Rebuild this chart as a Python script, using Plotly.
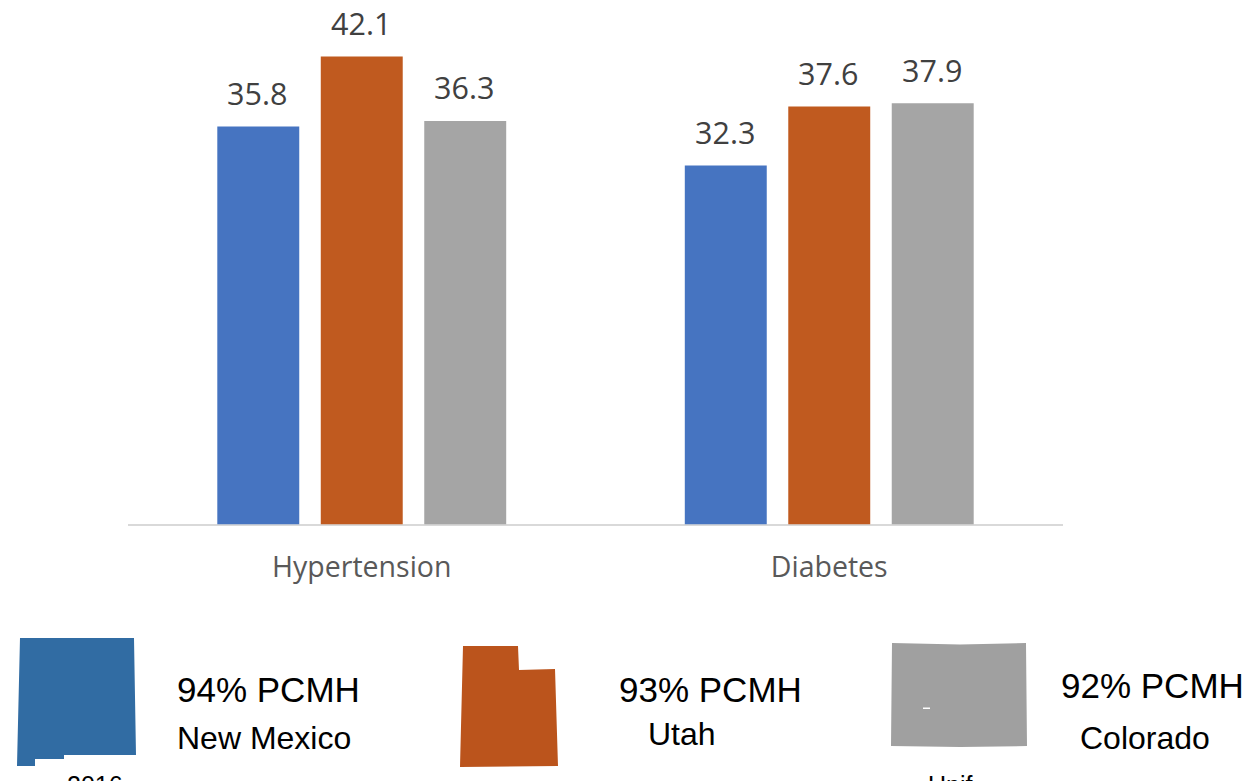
import plotly.graph_objects as go

W, H = 1246, 781
categories = ["Hypertension", "Diabetes"]
states = ["New Mexico", "Utah", "Colorado"]
new_mexico = [35.8, 32.3]
utah = [42.1, 37.6]
colorado = [36.3, 37.9]
bar_colors = ["#4674c1", "#c05a1f", "#a5a5a5"]

def px(x):
    return x / W

def py(y):
    return 1 - y / H

def outline(points):
    return "M " + " L ".join(f"{px(x):.5f},{py(y):.5f}" for x, y in points) + " Z"

fig = go.Figure()
for i, (name, vals, col) in enumerate(zip(states, [new_mexico, utah, colorado], bar_colors)):
    fig.add_bar(x=categories, y=vals, name=name, marker=dict(color=col, line_width=0), hoverinfo="x+y+name")
    for cat, v in zip(categories, vals):
        fig.add_annotation(text=f"{v:.1f}", x=cat, y=v, xref="x", yref="y", showarrow=False,
                           xshift=(i - 1) * 103.5 - 1, yshift=33.5, yanchor="middle", xanchor="center",
                           font=dict(family="Open Sans", size=30.5, color="#404040"))

shapes = [
    ([(20, 638), (134, 638), (136, 755), (64, 755), (64, 759), (35, 759), (35, 766), (17, 766)], "#316ca3"),
    ([(463, 646), (518, 646), (519, 670), (555, 669), (558, 766), (460, 767)], "#bb541c"),
    ([(892, 643), (960, 644.5), (1026, 643), (1027, 746), (960, 747), (891, 746)], "#a0a0a0"),
    ([(923, 707.5), (930, 707.5), (930, 709), (923, 709)], "#ffffff"),
]
for pts, col in shapes:
    fig.add_shape(type="path", path=outline(pts), xref="paper", yref="paper",
                  fillcolor=col, line_width=0, layer="above")

texts = [
    ("94% PCMH", 178, 689, 35), ("New Mexico", 178, 738, 32),
    ("93% PCMH", 620, 689, 35), ("Utah", 649, 734, 32),
    ("92% PCMH", 1062, 685, 35), ("Colorado", 1081, 738, 32),
    ("2016", 68, 785, 25), ("Unif", 929, 785, 25),
]
for t, x, y, s in texts:
    fig.add_annotation(text=t, x=px(x), y=py(y), xref="paper", yref="paper", xanchor="left",
                       yanchor="middle", showarrow=False, xshift=-3,
                       font=dict(family="Liberation Sans", size=s, color="#000000"))

fig.update_layout(
    width=W, height=H, margin=dict(l=0, r=0, t=0, b=0), showlegend=False,
    paper_bgcolor="white", plot_bgcolor="white", barmode="group",
    bargap=0.336, bargroupgap=0.208,
    xaxis=dict(domain=[px(128), px(1063)], showgrid=False, ticks="", zeroline=False,
               showline=False, anchor="y", ticklabelstandoff=23,
               tickfont=dict(family="Open Sans", size=28.5, color="#595959")),
    yaxis=dict(domain=[py(524.5), 1], range=[0, 524.5 / 11.116], showgrid=False, zeroline=True,
               zerolinecolor="#d9d9d9", zerolinewidth=2, showticklabels=False, ticks="", showline=False),
)
fig.write_html("out.html", config=dict(displayModeBar=False),
               post_script="document.body.style.margin='0';document.body.style.overflow='hidden';")
